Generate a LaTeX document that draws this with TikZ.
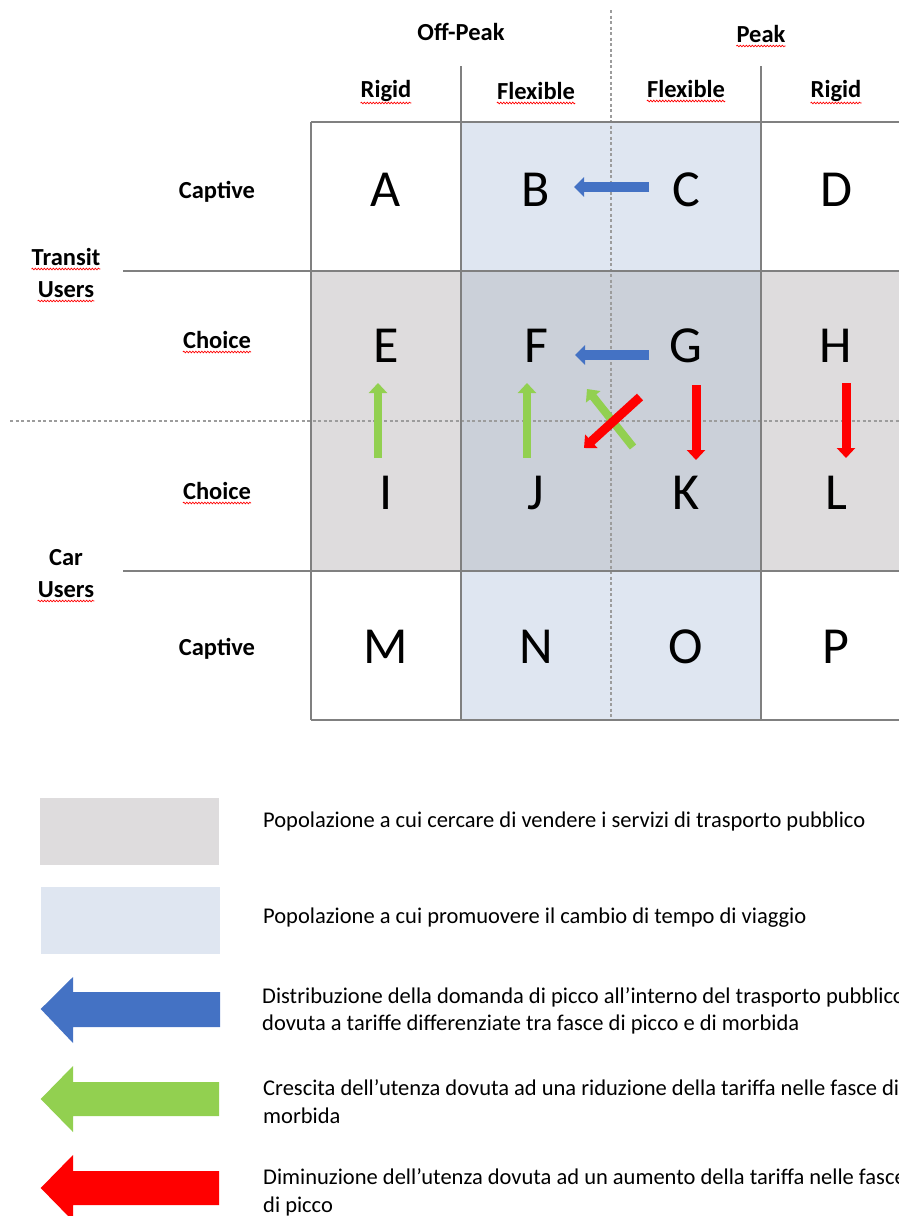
\documentclass[tikz,border=0pt]{standalone}
\usepackage{fontspec}
\setmainfont{Carlito}
\usetikzlibrary{arrows.meta,decorations.pathmorphing}

\definecolor{cellgrey}{HTML}{DEDCDD}
\definecolor{cellblue}{HTML}{DFE6F1}
\definecolor{cellmid}{HTML}{CBD0D9}
\definecolor{arrblue}{HTML}{4472C4}
\definecolor{arrgreen}{HTML}{92D050}
\definecolor{arrred}{HTML}{FF0000}
\definecolor{gridline}{HTML}{808080}
\definecolor{dashline}{HTML}{9C9C9C}

\newlength\peakw
\newcommand\wavy[1]{\draw[squig] ([yshift=-4pt]#1.base west) -- ([yshift=-4pt]#1.base east);}

\begin{document}
\begin{tikzpicture}[x=1pt,y=-1pt,
  hdr/.style={font=\bfseries\fontsize{24.5}{28}\selectfont, anchor=base, inner sep=0pt},
  letter/.style={font=\fontsize{52}{60}\selectfont, anchor=base, inner sep=0pt},
  legtext/.style={font=\fontsize{22.5}{27}\selectfont, anchor=base west, inner sep=0pt},
  gridrule/.style={draw=gridline, line width=1.4pt},
  divider/.style={draw=dashline, line width=1.2pt, dash pattern=on 3pt off 2.5pt},
  squig/.style={draw=red, line width=0.7pt, decorate,
    decoration={snake, segment length=3pt, amplitude=0.8pt}},
  bluearr/.style={draw=arrblue, line width=10pt, -{Triangle[length=10pt,width=19pt]}},
  greenarr/.style={draw=arrgreen, line width=8pt, -{Triangle[length=10pt,width=18pt]}},
  redarr/.style={draw=arrred, line width=9pt, -{Triangle[length=10pt,width=18pt]}},
]
\useasboundingbox (0,0) rectangle (899,1216);
\clip (0,0) rectangle (899,1216);

% ---- cell shading ----
\fill[cellblue] (461,122) rectangle (761,271);
\fill[cellblue] (461,571) rectangle (761,720);
\fill[cellgrey] (311,271) rectangle (461,571);
\fill[cellgrey] (761,271) rectangle (911,571);
\fill[cellmid]  (461,271) rectangle (761,571);

% ---- dashed dividers (peak / off-peak, transit / car) ----
\draw[divider] (611,10) -- (611,720);
\draw[divider] (10,421) -- (899,421);

% ---- grid rules ----
\draw[gridrule] (311,122) -- (899,122);
\draw[gridrule] (123,271) -- (899,271);
\draw[gridrule] (123,571) -- (899,571);
\draw[gridrule] (311,720) -- (899,720);
\draw[gridrule] (311,122) -- (311,720);
\draw[gridrule] (461,66) -- (461,720);
\draw[gridrule] (761,66) -- (761,720);

% ---- column headers ----
\settowidth{\peakw}{\bfseries\fontsize{24.5}{28}\selectfont Peak}
\node[hdr] (offpeak) at (461,40) {Off-Peak};
\node[hdr] (peak)    at (761,42) {Peak};
\node[hdr] (rigidL)  at (386,97) {Rigid};
\node[hdr] (flexL)   at (536,99) {Flexible};
\node[hdr] (flexR)   at (686,97) {Flexible};
\node[hdr] (rigidR)  at (836,97) {Rigid};

% ---- row headers ----
\node[hdr] (capT)    at (217,198) {Captive};
\node[hdr] (choiceT) at (217,348) {Choice};
\node[hdr] (choiceC) at (217,499) {Choice};
\node[hdr] (capC)    at (217,655) {Captive};
\node[hdr] (transit) at (66,265) {Transit};
\node[hdr] (usersT)  at (66,297) {Users};
\node[hdr] (car)     at (66,565) {Car};
\node[hdr] (usersC)  at (66,597) {Users};

% spell-check underlines
\draw[squig] ([yshift=-4pt,xshift=-\peakw]offpeak.base east) -- ([yshift=-4pt]offpeak.base east);
\wavy{peak}
\draw[squig] ([yshift=-6pt]rigidL.base west) -- ([yshift=-6pt]rigidL.base east);
\draw[squig] ([yshift=-4pt]flexL.base west) -- ([yshift=-4pt]flexL.base east);
\draw[squig] ([yshift=-4pt]flexR.base west) -- ([yshift=-4pt]flexR.base east);
\draw[squig] ([yshift=-6pt]rigidR.base west) -- ([yshift=-6pt]rigidR.base east);
\wavy{choiceT}
\wavy{choiceC}
\wavy{transit}
\wavy{usersT}
\wavy{usersC}

% ---- cell letters ----
\node[letter] (A) at (386,206) {A};
\node[letter] (B) at (536,206) {B};
\node[letter] (C) at (686,206) {C};
\node[letter] (D) at (836,206) {D};
\node[letter] (E) at (386,362) {E};
\node[letter] (F) at (536,362) {F};
\node[letter] (G) at (686,362) {G};
\node[letter] (H) at (836,362) {H};
\node[letter] (I) at (386,509) {I};
\node[letter] (J) at (536,509) {J};
\node[letter] (K) at (686,509) {K};
\node[letter] (L) at (836,509) {L};
\node[letter] (M) at (386,663) {M};
\node[letter] (N) at (536,663) {N};
\node[letter] (O) at (686,663) {O};
\node[letter] (P) at (836,663) {P};

% ---- shift arrows between cells ----
\coordinate (cTail) at (649,187);  \coordinate (bHead) at (574,187);
\coordinate (gTail) at (649,355);  \coordinate (fHead) at (575,355);
\coordinate (iTail) at (378,458);  \coordinate (eHead) at (378,383);
\coordinate (jTail) at (527,458);  \coordinate (fUp)   at (527,383);
\coordinate (kTail) at (633,447);  \coordinate (fDiag) at (587,389);
\coordinate (gDiag) at (640,397);  \coordinate (jDiag) at (584,448);
\coordinate (gDown) at (696,385);  \coordinate (kHead) at (696,460);
\coordinate (hDown) at (846,383);  \coordinate (lHead) at (846,458);

\draw[bluearr]  (cTail) -- (bHead);
\draw[bluearr]  (gTail) -- (fHead);
\draw[greenarr] (iTail) -- (eHead);
\draw[greenarr] (jTail) -- (fUp);
\draw[greenarr] (kTail) -- (fDiag);
\draw[redarr]   (gDiag) -- (jDiag);
\draw[redarr]   (gDown) -- (kHead);
\draw[redarr]   (hDown) -- (lHead);

% ---- legend ----
\fill[cellgrey] (40,798) rectangle (219,865);
\fill[cellblue] (41,887) rectangle (220,954);
\fill[arrblue]  (40.7,1009) -- (73,977) -- (73,992) -- (220,992) -- (220,1027) -- (73,1027) -- (73,1043) -- cycle;
\fill[arrgreen] (40.7,1099) -- (73,1066) -- (73,1082) -- (219,1082) -- (219,1116) -- (73,1116) -- (73,1132) -- cycle;
\fill[arrred]   (40.7,1188) -- (73,1155) -- (73,1171) -- (219,1171) -- (219,1205) -- (73,1205) -- (73,1221) -- cycle;

\node[legtext] (leg1)  at (263,827)  {Popolazione a cui cercare di vendere i servizi di trasporto pubblico};
\node[legtext] (leg2)  at (263,923)  {Popolazione a cui promuovere il cambio di tempo di viaggio};
\node[legtext] (leg3a) at (262,1003) {Distribuzione della domanda di picco all’interno del trasporto pubblico};
\node[legtext] (leg3b) at (262,1030) {dovuta a tariffe differenziate tra fasce di picco e di morbida};
\node[legtext] (leg4a) at (263,1095) {Crescita dell’utenza dovuta ad una riduzione della tariffa nelle fasce di};
\node[legtext] (leg4b) at (263,1123) {morbida};
\node[legtext] (leg5a) at (263,1184) {Diminuzione dell’utenza dovuta ad un aumento della tariffa nelle fasce};
\node[legtext] (leg5b) at (263,1212) {di picco};
\end{tikzpicture}
\end{document}
